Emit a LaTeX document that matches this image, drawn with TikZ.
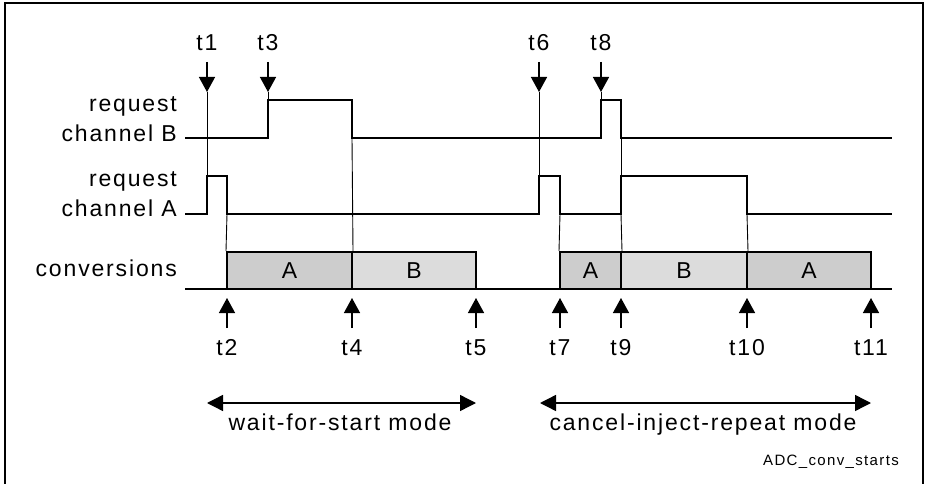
\documentclass[tikz,border=0pt]{standalone}
\usepackage{fontspec}
\setmainfont{Liberation Sans}[LetterSpace=8]
\newfontfamily\smallfont{Liberation Sans}[LetterSpace=9]
\usetikzlibrary{arrows.meta}
\definecolor{grayA}{HTML}{CDCDCD}
\definecolor{grayB}{HTML}{DCDCDC}
\begin{document}
\begin{tikzpicture}[x=1pt,y=-1pt,
  sig/.style={line width=2pt, line join=miter},
  thinline/.style={line width=0.9pt},
  tarrow/.style={line width=1.4pt,-{Triangle[length=15pt,width=16pt]}},
  modearrow/.style={line width=1.4pt,{Triangle[length=16pt,width=16pt]}-{Triangle[length=16pt,width=16pt]}},
  lbl/.style={font=\fontsize{23}{26}\selectfont, inner sep=0pt, anchor=base},
  sidelbl/.style={font=\fontsize{23}{26}\selectfont, inner sep=0pt, anchor=base east},
  convbox/.style={draw, line width=2pt, inner sep=0pt, minimum height=37pt,
    font=\fontsize{23}{26}\selectfont},
  convA/.style={convbox, fill=grayA},
  convB/.style={convbox, fill=grayB}]
\useasboundingbox (0,0) rectangle (927,484);
% frame
\coordinate (fbl) at (5,484);
\coordinate (ftl) at (5,3);
\coordinate (ftr) at (923,3);
\coordinate (fbr) at (923,484);
\draw[line width=2pt] (fbl) -- (ftl) -- (ftr) -- (fbr);
% side labels
\node[sidelbl] (rqB) at (177,111.7) {request};
\node[sidelbl] (chB) at (177,141.7) {channel B};
\node[sidelbl] (rqA) at (177,186.7) {request};
\node[sidelbl] (chA) at (177,216.7) {channel A};
\node[sidelbl] (conv) at (177,276.7) {conversions};
% signal B
\draw[sig] (185,138) -- (268,138) -- (268,100) -- (352,100) -- (352,138)
  -- (601,138) -- (601,100) -- (621,100) -- (621,138) -- (892,138);
% signal A
\draw[sig] (185,214) -- (207,214) -- (207,176) -- (227,176) -- (227,214)
  -- (539,214) -- (539,176) -- (560,176) -- (560,214) -- (621,214)
  -- (621,176) -- (747,176) -- (747,214) -- (892,214);
% conversions boxes
\node[convA, minimum width=125pt] (c1) at (289.5,270.5) {A};
\node[convB, minimum width=124pt] (c2) at (414,270.5) {B};
\node[convA, minimum width=61pt] (c3) at (590.5,270.5) {A};
\node[convB, minimum width=126pt] (c4) at (684,270.5) {B};
\node[convA, minimum width=124pt] (c5) at (809,270.5) {A};
\draw[sig] (185,289) -- (892,289);
% top arrows
\foreach \n/\x in {1/207,3/268,6/539,8/601} {
  \node[lbl] (lt\n) at (\x,51) {t\n};
  \coordinate (at\n) at (\x,62);
  \coordinate (bt\n) at (\x,92);
  \draw[tarrow] (at\n) -- (bt\n);
}
% thin guide lines
\draw[thinline] (bt1) -- (207,176);
\draw[thinline] (bt6) -- (539,176);
\draw[thinline] (bt3) -- (268,100);
\draw[thinline] (bt8) -- (601,100);
\draw[thinline] (227,214) -- (c1.north west);
\draw[thinline] (352,138) -- (c1.north east);
\draw[thinline] (560,214) -- (c3.north west);
\draw[thinline] (621,138) -- (621,176);
\draw[thinline] (621,214) -- (c3.north east);
\draw[thinline] (747,214) -- (c4.north east);
% bottom arrows
\foreach \n/\x in {2/227,4/352,5/476,7/560,9/621,10/747,11/871} {
  \node[lbl] (lb\n) at (\x,355) {t\n};
  \coordinate (ab\n) at (\x,328);
  \coordinate (tb\n) at (\x,298);
  \draw[tarrow] (ab\n) -- (tb\n);
}
% mode arrows
\coordinate (m1l) at (207,403);
\coordinate (m1r) at (476,403);
\coordinate (m2l) at (540,403);
\coordinate (m2r) at (871,403);
\draw[modearrow] (m1l) -- (m1r);
\draw[modearrow] (m2l) -- (m2r);
\node[lbl] (mode1) at (340,430) {wait-for-start mode};
\node[lbl] (mode2) at (703,430) {cancel-inject-repeat mode};
\node[font=\smallfont\fontsize{15}{17}\selectfont, inner sep=0pt, anchor=base east] (fig) at (899,465) {ADC\_conv\_starts};
\end{tikzpicture}
\end{document}
